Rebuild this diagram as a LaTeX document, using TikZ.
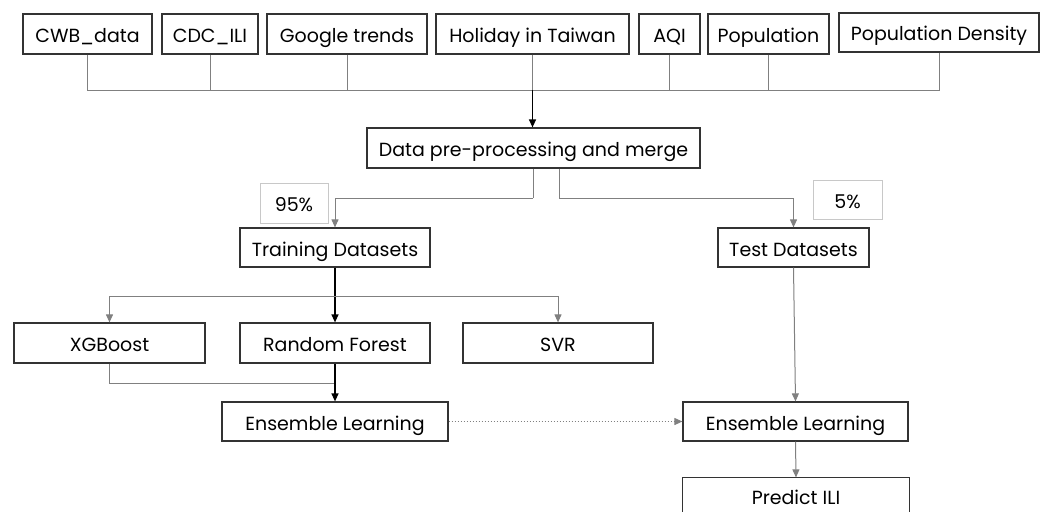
\documentclass[tikz,border=0pt]{standalone}
\usepackage{fontspec}
\setmainfont{Poppins}
\usetikzlibrary{arrows.meta}
\definecolor{boxline}{HTML}{333333}
\definecolor{connline}{HTML}{808080}
\definecolor{pctline}{HTML}{C8C8C8}
\tikzset{
  box/.style={draw=boxline, line width=1.2pt, inner sep=0pt, minimum height=40pt, align=center,
    font=\fontsize{19}{22}\selectfont, text height=17pt, text depth=0pt},
  pctbox/.style={draw=pctline, line width=0.8pt, inner sep=0pt, minimum height=40pt,
    font=\fontsize{19}{22}\selectfont, text height=17pt, text depth=0pt},
  conn/.style={draw=connline, line width=1pt},
  blk/.style={draw=black, line width=1.2pt},
  edge/.style={draw=boxline, line width=1.2pt},
  tip/.style={-{Triangle[length=8pt,width=7pt]}},
}
\begin{document}
\begin{tikzpicture}[x=1pt,y=-1pt]
\useasboundingbox (0,0) rectangle (1046,511);
% top row
\node[box, minimum width=129pt] (cwb) at (87.5,34) {CWB\_data};
\node[box, minimum width=96pt] (cdc) at (210,34) {CDC\_ILI};
\node[box, minimum width=160pt] (goo) at (347,34) {Google trends};
\node[box, minimum width=193pt] (hol) at (532.5,34) {Holiday in Taiwan};
\node[box, minimum width=61pt] (aqi) at (669.5,34) {AQI};
\node[box, minimum width=121pt] (pop) at (768.5,34) {Population};
\node[box, minimum width=200pt, minimum height=39pt] (pd) at (939,32.5) {Population Density};
% middle
\node[box, minimum width=333pt] (data) at (533.5,148) {Data pre-processing and merge};
\node[pctbox, minimum width=68pt] (p95) at (294,203) {95\%};
\node[pctbox, minimum width=69pt, minimum height=39pt] (p5) at (847.5,199.5) {5\%};
\node[box, minimum width=190pt, minimum height=39pt] (train) at (335,247.5) {Training Datasets};
\node[box, minimum width=151pt, minimum height=39pt] (test) at (793.5,247.5) {Test Datasets};
% models
\node[box, minimum width=191pt] (xgb) at (109.5,343) {XGBoost};
\node[box, minimum width=190pt] (rf) at (335,343) {Random Forest};
\node[box, minimum width=190pt] (svr) at (558,343) {SVR};
\node[box, minimum width=226pt, minimum height=39pt] (ens1) at (335,421.5) {Ensemble Learning};
\node[box, minimum width=225pt, minimum height=39pt] (ens2) at (795.5,421.5) {Ensemble Learning};
% last box, cut off by the lower edge of the picture
\node[box, draw=none, minimum width=226pt, minimum height=33pt, text height=19pt] (pred) at (796,494.5) {Predict ILI};
\draw[edge] (pred.south west) -- (pred.north west) -- (pred.north east) -- (pred.south east);
% coordinates
\coordinate (bus) at (0,90);
\coordinate (split) at (0,198);
\coordinate (mbus) at (0,296);
\coordinate (ebus) at (0,383);
% top bus
\draw[conn] (cwb.south) -- (cwb.south |- bus) -- (pd.south |- bus) -- (pd.south);
\draw[conn] (cdc.south) -- (cdc.south |- bus);
\draw[conn] (goo.south) -- (goo.south |- bus);
\draw[conn] (hol.south) -- (hol.south |- bus);
\draw[conn] (aqi.south) -- (aqi.south |- bus);
\draw[conn] (pop.south) -- (pop.south |- bus);
\draw[blk, tip] (hol.south |- bus) -- (hol.south |- data.north);
% split
\draw[conn] ([xshift=-0.5pt]data.south) -- ([xshift=-0.5pt]data.south |- split);
\draw[conn] ([xshift=25.5pt]data.south) -- ([xshift=25.5pt]data.south |- split);
\draw[conn, tip] ([xshift=-0.5pt]data.south |- split) -| (train.north);
\draw[conn, tip] ([xshift=25.5pt]data.south |- split) -| (test.north);
% training to models
\draw[blk, tip] (train.south) -- (rf.north);
\draw[conn, tip] (train.south |- mbus) -| (xgb.north);
\draw[conn, tip] (train.south |- mbus) -| (svr.north);
% models to ensemble
\draw[conn] (xgb.south) |- (rf.south |- ebus);
\draw[blk, tip] (rf.south) -- (ens1.north);
\draw[conn, dotted, tip] (ens1.east) -- (ens2.west);
% test branch
\draw[conn, tip] (test.south) -- (ens2.north);
\draw[conn, tip] (ens2.south) -- (pred.north);
\end{tikzpicture}
\end{document}
